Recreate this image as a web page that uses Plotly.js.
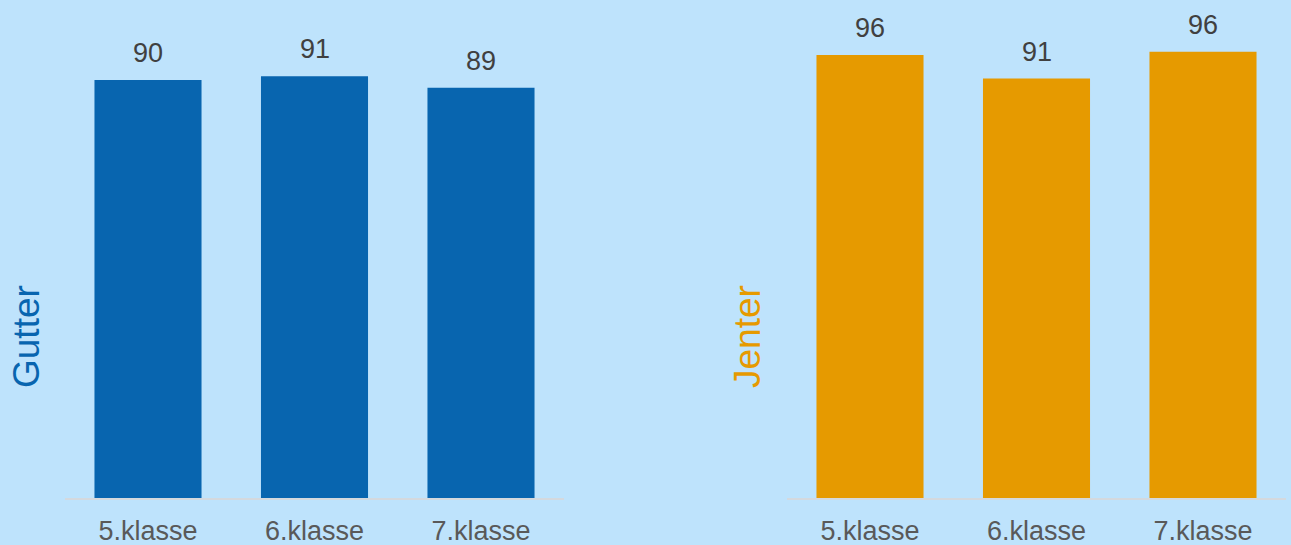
<!DOCTYPE html>
<html>
<head>
<meta charset="utf-8">
<script src="https://cdn.plot.ly/plotly-3.0.1.min.js"></script>
<style>html,body{margin:0;padding:0;background:#BEE3FC;}</style>
</head>
<body>
<div id="chart" style="width:1291px;height:545px;"></div>
<script>
const categories = ['5.klasse', '6.klasse', '7.klasse'];
const gutterValues = [90.3, 91.1, 88.6];
const jenterValues = [95.7, 90.6, 96.4];
const gutterTitle = 'Gutter';
const jenterTitle = 'Jenter';

const BLUE = '#0865AF';
const ORANGE = '#E69A00';
const BG = '#BEE3FC';
const FONT = 'Liberation Sans, Arial, sans-serif';

const traces = [
  {type: 'bar', x: categories, y: gutterValues, xaxis: 'x', yaxis: 'y',
   marker: {color: BLUE, line: {width: 0}}, hoverinfo: 'skip'},
  {type: 'bar', x: categories, y: jenterValues, xaxis: 'x2', yaxis: 'y2',
   marker: {color: ORANGE, line: {width: 0}}, hoverinfo: 'skip'}
];

const annotations = [];
gutterValues.forEach((v, i) => annotations.push({
  x: categories[i], y: v, xref: 'x', yref: 'y', text: String(Math.round(v)),
  showarrow: false, yanchor: 'bottom', yshift: 10,
  font: {family: FONT, size: 27, color: '#404040'}
}));
jenterValues.forEach((v, i) => annotations.push({
  x: categories[i], y: v, xref: 'x2', yref: 'y2', text: String(Math.round(v)),
  showarrow: false, yanchor: 'bottom', yshift: 10,
  font: {family: FONT, size: 27, color: '#404040'}
}));
annotations.push({
  text: gutterTitle, xref: 'paper', yref: 'paper', x: 27/1291, y: 0.3233,
  textangle: -90, showarrow: false, xanchor: 'center', yanchor: 'middle',
  font: {family: FONT, size: 37, color: BLUE}
});
annotations.push({
  text: jenterTitle, xref: 'paper', yref: 'paper', x: 748/1291, y: 0.3233,
  textangle: -90, showarrow: false, xanchor: 'center', yanchor: 'middle',
  font: {family: FONT, size: 37, color: ORANGE}
});

const yRange = [0, 498/4.63];
const xCommon = {
  type: 'category', showgrid: false, zeroline: false,
  showline: true, linecolor: '#D4D9DE', linewidth: 2,
  ticks: '', ticklabelstandoff: 8,
  tickfont: {family: FONT, size: 27, color: '#595959'}
};
const yCommon = {
  range: yRange, visible: false, showgrid: false, zeroline: false, fixedrange: true
};

const layout = {
  width: 1291, height: 545,
  margin: {l: 0, r: 0, t: 0, b: 47},
  paper_bgcolor: BG, plot_bgcolor: BG,
  showlegend: false,
  bargap: 0.357,
  xaxis: Object.assign({}, xCommon, {domain: [64.75/1291, 564.25/1291], anchor: 'y'}),
  xaxis2: Object.assign({}, xCommon, {domain: [786.75/1291, 1286.25/1291], anchor: 'y2'}),
  yaxis: Object.assign({}, yCommon, {anchor: 'x'}),
  yaxis2: Object.assign({}, yCommon, {anchor: 'x2'}),
  annotations: annotations
};

Plotly.newPlot('chart', traces, layout, {displayModeBar: false, staticPlot: true});
</script>
</body>
</html>
